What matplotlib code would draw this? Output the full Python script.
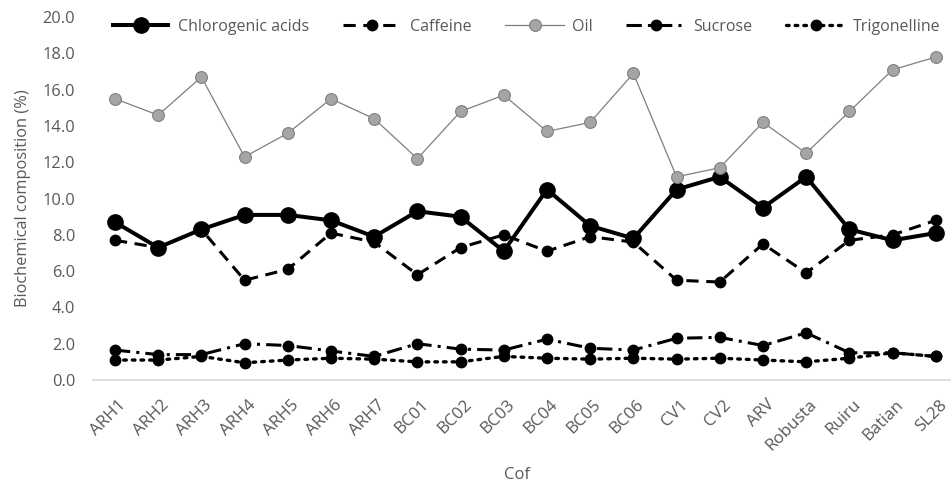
import matplotlib.pyplot as plt
from matplotlib.transforms import ScaledTranslation

plt.rcParams['font.family'] = ['Open Sans', 'DejaVu Sans']

cultivars = ["ARH1", "ARH2", "ARH3", "ARH4", "ARH5", "ARH6", "ARH7", "BC01", "BC02", "BC03",
             "BC04", "BC05", "BC06", "CV1", "CV2", "ARV", "Robusta", "Ruiru", "Batian", "SL28"]

chlorogenic = [8.7, 7.3, 8.3, 9.1, 9.1, 8.8, 7.9, 9.3, 9.0, 7.1,
               10.5, 8.5, 7.8, 10.5, 11.2, 9.5, 11.2, 8.3, 7.7, 8.1]
caffeine = [7.7, 7.3, 8.3, 5.5, 6.1, 8.1, 7.6, 5.8, 7.3, 8.0,
            7.1, 7.9, 7.6, 5.5, 5.4, 7.5, 5.9, 7.7, 8.0, 8.8]
oil = [15.5, 14.6, 16.7, 12.3, 13.6, 15.5, 14.4, 12.2, 14.8, 15.7,
       13.7, 14.2, 16.9, 11.2, 11.7, 14.2, 12.5, 14.8, 17.1, 17.8]
sucrose = [1.65, 1.4, 1.4, 2.0, 1.9, 1.6, 1.3, 2.0, 1.7, 1.65,
           2.25, 1.75, 1.65, 2.3, 2.35, 1.9, 2.6, 1.5, 1.5, 1.3]
trigonelline = [1.1, 1.1, 1.3, 0.95, 1.1, 1.2, 1.15, 1.0, 1.0, 1.3,
                1.2, 1.15, 1.2, 1.15, 1.2, 1.1, 1.0, 1.2, 1.5, 1.3]

x = list(range(len(cultivars)))
grey_txt = "#595959"

fig = plt.figure(figsize=(9.51, 4.90), dpi=100)
ax = fig.add_axes([0.0982, 0.2245, 0.9085, 0.7405])

ax.plot(x, chlorogenic, color="black", lw=2.9, marker="o", ms=11,
        solid_capstyle="butt", label="Chlorogenic acids")
ax.plot(x, caffeine, color="black", lw=2.2, ls=(0, (4, 2.5)), marker="o", ms=7.5,
        label="Caffeine")
ax.plot(x, oil, color="#7f7f7f", lw=0.9, marker="o", ms=8.5,
        mfc="#a5a5a5", mec="#7f7f7f", mew=0.8, label="Oil")
ax.plot(x, sucrose, color="black", lw=2.2, ls=(0, (5, 2, 1, 2)), marker="o", ms=7.5,
        label="Sucrose")
ax.plot(x, trigonelline, color="black", lw=2.4, ls=(0, (0.8, 1.8)),
        dash_capstyle="round", marker="o", ms=7.5, label="Trigonelline")

ax.set_xlim(-0.5, len(cultivars) - 0.5)
ax.set_ylim(0, 20)
ax.set_yticks(range(0, 21, 2))
ax.set_yticklabels([f"{v:.1f}" for v in range(0, 21, 2)])
ax.set_xticks(x)
ax.set_xticklabels(cultivars, rotation=45, ha="right", rotation_mode="anchor")
ax.tick_params(axis="both", length=0, colors=grey_txt)
ax.tick_params(axis="y", pad=13, labelsize=11.8)
ax.tick_params(axis="x", pad=12, labelsize=12.2)

# nudge rotated labels a little to the right, like the original
shift = ScaledTranslation(3 / 100, 0, fig.dpi_scale_trans)
for lbl in ax.get_xticklabels():
    lbl.set_transform(lbl.get_transform() + shift)

for side in ["top", "right", "left"]:
    ax.spines[side].set_visible(False)
ax.spines["bottom"].set_color("#d9d9d9")
ax.spines["bottom"].set_linewidth(1.2)

ax.set_ylabel("Biochemical composition (%)", color=grey_txt, fontsize=11.8, labelpad=8)
ax.set_xlabel("Cof", color=grey_txt, fontsize=12)
ax.xaxis.label.set_va("center")
ax.xaxis.set_label_coords(0.49, -0.262)

leg = fig.legend(loc="center", bbox_to_anchor=(0.553, 0.945), ncol=5, frameon=False,
                 fontsize=11.5, handlelength=3.7, handletextpad=0.5, columnspacing=2.1)
for t in leg.get_texts():
    t.set_color(grey_txt)

fig.savefig("out.png", dpi=100)
